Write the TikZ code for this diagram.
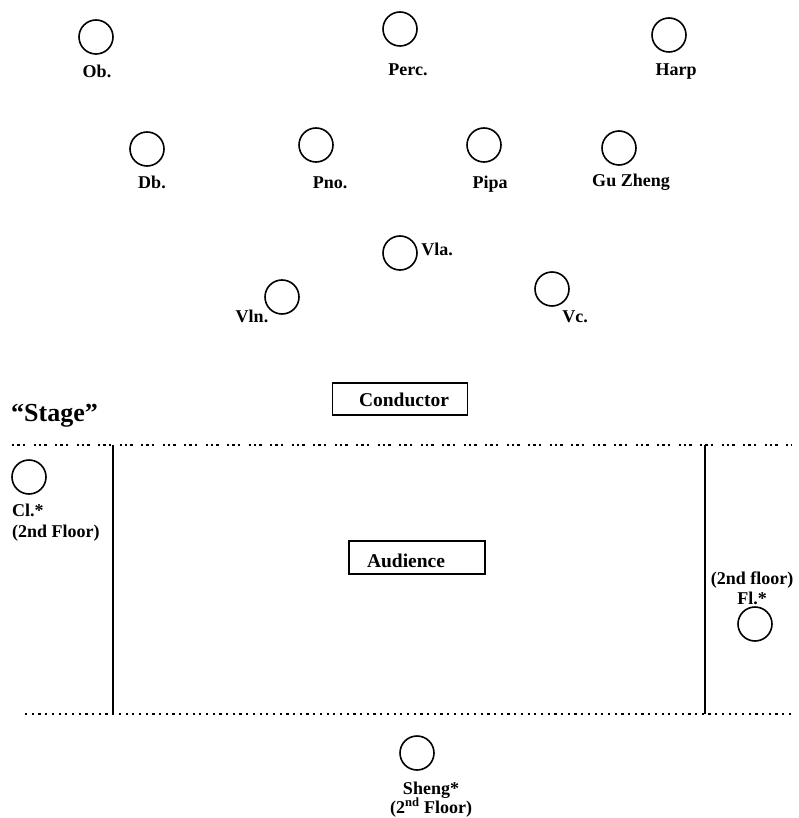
\documentclass[tikz,border=0pt]{standalone}
\usepackage{fontspec}
\setmainfont{Liberation Serif}
\begin{document}
\begin{tikzpicture}[x=1pt,y=-1pt,
  inst/.style={circle,draw,line width=1.6pt,minimum size=34pt,inner sep=0pt},
  lbl/.style={inner sep=0pt,anchor=base,font=\fontsize{18}{21}\selectfont\bfseries},
  lbll/.style={lbl,anchor=base west},
  boxed/.style={draw,line width=1.4pt,inner sep=0pt},
  boxtxt/.style={inner sep=0pt,anchor=base,font=\fontsize{19.5}{22}\selectfont\bfseries},
  groupdots/.style={line width=2.2pt,dash pattern=on 2.2pt off 3.2pt on 2.2pt off 3.2pt on 2.2pt off 8.5pt},
  evendots/.style={line width=2.2pt,dash pattern=on 2.2pt off 4.5pt},
  wall/.style={line width=1.6pt}]
\useasboundingbox (0,0) rectangle (798,818);
% instruments
\node[inst] (ob) at (96,37) {};
\node[lbl] (obl) at (97,78) {Ob.};
\node[inst] (perc) at (400,29) {};
\node[lbl] (percl) at (408,76) {Perc.};
\node[inst] (harp) at (669,35) {};
\node[lbl] (harpl) at (676,76) {Harp};
\node[inst] (db) at (147,149) {};
\node[lbl] (dbl) at (152,189) {Db.};
\node[inst] (pno) at (316,145) {};
\node[lbl] (pnol) at (330,189) {Pno.};
\node[inst] (pipa) at (484,145) {};
\node[lbl] (pipal) at (490,189) {Pipa};
\node[inst] (guz) at (619,148) {};
\node[lbl] (guzl) at (631,187) {Gu Zheng};
\node[inst] (vla) at (400,253) {};
\node[lbl] (vlal) at (437,255) {Vla.};
\node[inst] (vln) at (282,297) {};
\node[lbl] (vlnl) at (252,322) {Vln.};
\node[inst] (vc) at (552,289) {};
\node[lbl] (vcl) at (575,322) {Vc.};
% conductor
\node[boxed,minimum width=135pt,minimum height=32pt] (cond) at (400,399) {};
\node[boxtxt] (condl) at (404,406) {Conductor};
% stage
\node[inner sep=0pt,anchor=base west,font=\fontsize{26}{29}\selectfont\bfseries] (stage) at (11,421) {“Stage”};
% hall lines
\coordinate (tl) at (12,445);
\coordinate (tr) at (792,445);
\coordinate (bl) at (25,714);
\coordinate (br) at (792,714);
\coordinate (lwt) at (113,445);
\coordinate (lwb) at (113,714);
\coordinate (rwt) at (705,445);
\coordinate (rwb) at (705,714);
\draw[groupdots] (tl) -- (tr);
\draw[evendots] (bl) -- (br);
\draw[wall] (lwt) -- (lwb);
\draw[wall] (rwt) -- (rwb);
% clarinet
\node[inst] (cl) at (29,477) {};
\node[lbll] (cll) at (12,516) {Cl.*};
\node[lbll] (cll2) at (12,537) {(2nd Floor)};
% audience
\node[boxed,minimum width=136pt,minimum height=33pt] (aud) at (417,557.5) {};
\node[boxtxt] (audl) at (406,567) {Audience};
% flute
\node[lbl] (fll2) at (752,584) {(2nd floor)};
\node[lbl] (fll) at (752,604) {Fl.*};
\node[inst] (fl) at (755,624) {};
% sheng
\node[inst] (sheng) at (417,753) {};
\node[lbl] (shengl) at (431,794) {Sheng*};
\node[lbl] (shengl2) at (431,813) {(2\textsuperscript{nd} Floor)};
\end{tikzpicture}
\end{document}
